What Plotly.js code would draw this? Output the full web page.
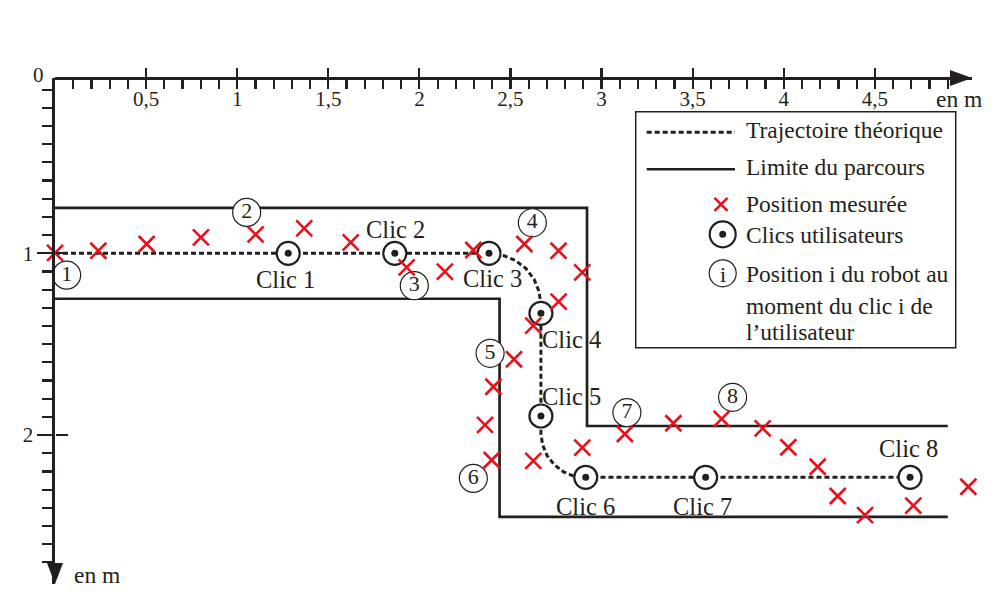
<!DOCTYPE html>
<html><head><meta charset="utf-8">
<script src="https://cdn.plot.ly/plotly-3.0.1.min.js"></script>
<style>html,body{margin:0;padding:0;background:#fff}#chart{width:1008px;height:608px}</style>
</head><body><div id="chart"></div>
<script>
// ---------- data (metres) ----------
const boundOuterX = [0, 2.92, 2.92, 4.90];
const boundOuterY = [0.75, 0.75, 1.95, 1.95];
const boundInnerX = [0, 2.44, 2.44, 4.90];
const boundInnerY = [1.25, 1.25, 2.45, 2.45];

const trajX = [0, 2.382, 2.456, 2.525, 2.584, 2.629, 2.657, 2.667, 2.667, 2.676, 2.701, 2.740, 2.791, 2.850, 2.913, 4.693];
const trajY = [1.0, 1.0, 1.010, 1.038, 1.083, 1.142, 1.211, 1.285, 1.99, 2.053, 2.113, 2.163, 2.202, 2.227, 2.232, 2.232];

const clicX = [1.280, 1.865, 2.382, 2.667, 2.667, 2.913, 3.571, 4.693];
const clicY = [1.0, 1.0, 1.0, 1.33, 1.895, 2.232, 2.232, 2.232];
const clicLabels = ['Clic 1', 'Clic 2', 'Clic 3', 'Clic 4', 'Clic 5', 'Clic 6', 'Clic 7', 'Clic 8'];

const mesX = [0.0, 0.238, 0.503, 0.801, 1.101, 1.368, 1.623, 1.930, 2.140, 2.296, 2.576, 2.764, 2.894, 2.764, 2.625,
              2.519, 2.406, 2.360, 2.397, 2.625, 2.894, 3.128, 3.394, 3.659, 3.884, 4.025, 4.186, 4.296, 4.446, 4.711, 5.013];
const mesY = [0.998, 0.986, 0.949, 0.912, 0.896, 0.863, 0.940, 1.077, 1.101, 0.982, 0.949, 0.986, 1.105, 1.266, 1.398,
              1.583, 1.734, 1.944, 2.137, 2.142, 2.069, 1.994, 1.935, 1.911, 1.963, 2.067, 2.174, 2.335, 2.440, 2.388, 2.284];

const posX = [0.064, 1.052, 1.972, 2.620, 2.388, 2.296, 3.139, 3.719];
const posY = [1.120, 0.775, 1.178, 0.832, 1.550, 2.238, 1.876, 1.792];
const posLabels = ['1', '2', '3', '4', '5', '6', '7', '8'];

const xTickVals = [0.5, 1, 1.5, 2, 2.5, 3, 3.5, 4, 4.5];
const xTickText = ['0,5', '1', '1,5', '2', '2,5', '3', '3,5', '4', '4,5'];
const yTickVals = [1, 2];
const yTickText = ['1', '2'];

const legendLabels = ['Trajectoire théorique', 'Limite du parcours', 'Position mesurée', 'Clics utilisateurs',
                      'Position i du robot au', 'moment du clic i de', 'l\u2019utilisateur'];

// ---------- styling / layout ----------
const FONT = 'Liberation Serif, Times New Roman, serif';
const INK = '#231f20';
const RED = '#e8101a';
const L = 55, T = 78, W = 917, H = 506;
const XR = [0, 5.033], YR = [2.819, 0.0358];
function px(x) { return (x - L) / W; }
function py(y) { return (T + H - y) / H; }

const minorX = []; for (let i = 1; i <= 49; i++) minorX.push(+(i / 10).toFixed(2));
const minorY = []; for (let i = 1; i <= 27; i++) minorY.push(+(i / 10).toFixed(2));

const traces = [
  { x: boundOuterX.concat([null], boundInnerX), y: boundOuterY.concat([null], boundInnerY),
    mode: 'lines', line: { color: INK, width: 2.7 }, cliponaxis: false, hoverinfo: 'skip' },
  { x: trajX, y: trajY, mode: 'lines', line: { color: INK, width: 3, dash: '5px,3px' }, hoverinfo: 'skip' },
  { x: posX, y: posY, mode: 'markers+text', text: posLabels, textposition: 'middle center',
    textfont: { family: FONT, size: 22, color: INK },
    marker: { symbol: 'circle', size: 28, color: 'white', line: { color: INK, width: 1.2 } }, cliponaxis: false, hoverinfo: 'skip' },
  { x: clicX, y: clicY, mode: 'markers',
    marker: { symbol: 'circle', size: 23, color: 'white', line: { color: INK, width: 2.2 } }, cliponaxis: false, hoverinfo: 'skip' },
  { x: clicX, y: clicY, mode: 'markers', marker: { symbol: 'circle', size: 7, color: INK }, cliponaxis: false, hoverinfo: 'skip' },
  { x: mesX, y: mesY, mode: 'markers',
    marker: { symbol: 'x-thin-open', size: 16, color: RED, line: { color: RED, width: 2.6 } }, cliponaxis: false, hoverinfo: 'skip' },
  { x: [], y: [], xaxis: 'x2', yaxis: 'y2', mode: 'markers', hoverinfo: 'skip' }
];

// clic label offsets (pixels) relative to each clic
const clicLabelPlace = [
  { dx: -3, dy: -26, a: 'center' }, { dx: 1, dy: 24, a: 'center' }, { dx: 4, dy: -25, a: 'center' },
  { dx: 1, dy: -26, a: 'left' }, { dx: 1, dy: 20, a: 'left' }, { dx: 0, dy: -29, a: 'center' },
  { dx: -3, dy: -29, a: 'center' }, { dx: -2, dy: 29, a: 'center' }
];

const annotations = [];
clicLabels.forEach((t, i) => {
  const p = clicLabelPlace[i];
  annotations.push({ x: clicX[i], y: clicY[i], xref: 'x', yref: 'y', text: t, showarrow: false,
    xanchor: p.a, yanchor: 'middle', xshift: p.dx + (p.a === 'left' ? -2 : 0), yshift: p.dy,
    font: { family: FONT, size: 24.5, color: INK } });
});
function paperText(text, x, y, xa, size) {
  annotations.push({ x: px(x), y: py(y), xref: 'paper', yref: 'paper', text: text, showarrow: false,
    xanchor: xa || 'left', yanchor: 'middle', font: { family: FONT, size: size || 23.5, color: INK } });
}
paperText('0', 46, 75, 'right', 21);
paperText('en m', 934, 99);
paperText('en m', 72, 575);
const legTextY = [130, 167, 204, 235, 274, 306, 332];
legendLabels.forEach((t, i) => paperText(t, 744, legTextY[i]));
paperText('i', 722.7, 274, 'center', 22);

const shapes = [];
// axis arrowheads
shapes.push({ type: 'path', xref: 'paper', yref: 'paper', xsizemode: 'pixel', ysizemode: 'pixel',
  xanchor: 1, yanchor: 1, path: 'M0,0 L-22,8 L-22,-8 Z', fillcolor: INK, line: { width: 0 } });
shapes.push({ type: 'path', xref: 'paper', yref: 'paper', xsizemode: 'pixel', ysizemode: 'pixel',
  xanchor: 0, yanchor: 0, path: 'M0,0 L-8,21 L8,21 Z', fillcolor: INK, line: { width: 0 } });
// legend box
shapes.push({ type: 'rect', xref: 'paper', yref: 'paper', x0: px(635.7), x1: px(955.7), y0: py(347.7), y1: py(111.7),
  line: { color: INK, width: 1.5 }, fillcolor: 'white', layer: 'below' });
shapes.push({ type: 'line', xref: 'paper', yref: 'paper', x0: px(646.7), x1: px(735), y0: py(132.3), y1: py(132.3),
  line: { color: INK, width: 3, dash: '5px,3px' } });
shapes.push({ type: 'line', xref: 'paper', yref: 'paper', x0: px(646.7), x1: px(735), y0: py(169.3), y1: py(169.3),
  line: { color: INK, width: 2.5 } });
shapes.push({ type: 'path', xref: 'paper', yref: 'paper', xsizemode: 'pixel', ysizemode: 'pixel',
  xanchor: px(721), yanchor: py(204.3), path: 'M-6.5,-6.5L6.5,6.5M-6.5,6.5L6.5,-6.5', line: { color: RED, width: 2.6 } });
shapes.push({ type: 'circle', xref: 'paper', yref: 'paper', xsizemode: 'pixel', ysizemode: 'pixel',
  xanchor: px(722.7), yanchor: py(234.3), x0: -13, x1: 13, y0: -13, y1: 13, line: { color: INK, width: 2.2 } });
shapes.push({ type: 'circle', xref: 'paper', yref: 'paper', xsizemode: 'pixel', ysizemode: 'pixel',
  xanchor: px(722.7), yanchor: py(234.3), x0: -3.5, x1: 3.5, y0: -3.5, y1: 3.5, fillcolor: INK, line: { width: 0 } });
shapes.push({ type: 'circle', xref: 'paper', yref: 'paper', xsizemode: 'pixel', ysizemode: 'pixel',
  xanchor: px(722.7), yanchor: py(273.3), x0: -13.5, x1: 13.5, y0: -13.5, y1: 13.5, line: { color: INK, width: 1.2 } });

const tickCommon = { tickcolor: INK, tickwidth: 2.2, showgrid: false, zeroline: false, fixedrange: true };
const layout = {
  width: 1008, height: 608, margin: { l: L, r: 1008 - L - W, t: T, b: 608 - T - H },
  paper_bgcolor: 'white', plot_bgcolor: 'rgba(0,0,0,0)', showlegend: false,
  font: { family: FONT, size: 20, color: INK },
  xaxis: Object.assign({}, tickCommon, {
    range: XR, anchor: 'free', position: 1, side: 'bottom', showline: true, linewidth: 2.6, linecolor: INK,
    ticks: 'outside', ticklen: 9, tickmode: 'array', tickvals: xTickVals, ticktext: xTickText,
    ticklabelstandoff: -8,
    tickfont: { family: FONT, size: 21, color: INK },
    minor: { tickmode: 'array', tickvals: minorX, ticks: 'outside', ticklen: 9, tickwidth: 2.2, tickcolor: INK, showgrid: false }
  }),
  xaxis2: Object.assign({}, tickCommon, {
    range: XR, overlaying: 'x', anchor: 'free', position: 1, side: 'top', showline: false,
    ticks: 'outside', ticklen: 10, tickmode: 'array', tickvals: xTickVals, showticklabels: false
  }),
  yaxis: Object.assign({}, tickCommon, {
    range: YR, anchor: 'x', side: 'left', showline: true, linewidth: 2.6, linecolor: INK,
    ticks: 'outside', ticklen: 15, tickmode: 'array', tickvals: yTickVals, ticktext: yTickText,
    tickfont: { family: FONT, size: 21, color: INK },
    minor: { tickmode: 'array', tickvals: minorY, ticks: 'outside', ticklen: 10, tickwidth: 2.2, tickcolor: INK, showgrid: false }
  }),
  yaxis2: Object.assign({}, tickCommon, {
    range: YR, overlaying: 'y', anchor: 'free', position: 0, side: 'right', showline: false,
    ticks: 'outside', ticklen: 12, tickmode: 'array', tickvals: yTickVals, showticklabels: false
  }),
  shapes: shapes,
  annotations: annotations
};

Plotly.newPlot('chart', traces, layout, { displayModeBar: false, staticPlot: true });
</script>
</body></html>
